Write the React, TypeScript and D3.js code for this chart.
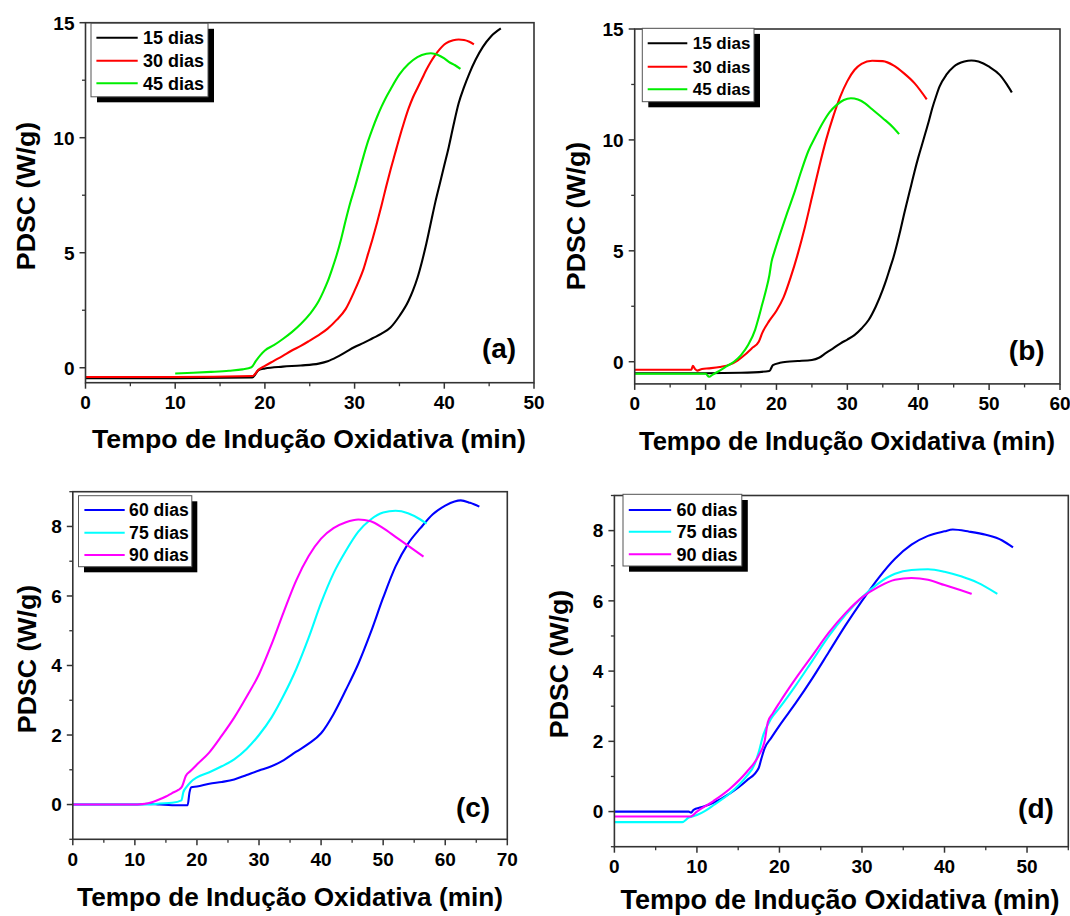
import React from "react";
import * as d3 from "d3";

const FONT = "'Liberation Sans', Arial, Helvetica, sans-serif";

// ---------- DATA ----------
const legendA = ["15 dias", "30 dias", "45 dias"];
const colorsA = ["#000000", "#ff0000", "#00ee00"];
const legendC = ["60 dias", "75 dias", "90 dias"];
const colorsC = ["#0000ff", "#00ffff", "#ff00ff"];

const a15: [number, number][] = [[0,-0.45],[10,-0.45],[18.6,-0.42],[19.3,-0.1],[20,-0.03],[22,0.05],[24,0.1],[26,0.18],[27,0.28],[28,0.46],[29,0.68],[30,0.9],[31,1.08],[32,1.28],[33,1.48],[34,1.75],[35,2.25],[36,2.9],[36.5,3.35],[37,3.9],[37.5,4.6],[38,5.4],[38.5,6.3],[39,7.2],[39.5,8.0],[40,8.8],[40.5,9.6],[41,10.5],[41.6,11.5],[42.2,12.2],[42.8,12.8],[43.5,13.4],[44.3,13.95],[45.2,14.4],[46.3,14.75]];
const a30: [number, number][] = [[0,-0.4],[10,-0.4],[18.6,-0.36],[19.3,-0.08],[20,0.08],[21,0.3],[22,0.52],[23,0.75],[24,0.95],[25,1.18],[26,1.42],[27,1.7],[28,2.08],[29,2.55],[30,3.35],[30.5,3.8],[31,4.3],[31.5,4.95],[32,5.6],[32.5,6.3],[33,7.05],[33.5,7.85],[34,8.6],[34.5,9.3],[35,10.0],[35.5,10.65],[36,11.25],[36.5,11.75],[37,12.15],[37.5,12.55],[38,12.95],[38.5,13.3],[39,13.6],[39.5,13.85],[40,14.05],[40.5,14.17],[41,14.24],[41.6,14.27],[42.2,14.25],[42.8,14.17],[43.3,14.06]];
const a45: [number, number][] = [[10,-0.25],[12,-0.22],[14,-0.18],[16,-0.13],[17.5,-0.07],[18.5,0.02],[19,0.3],[19.5,0.55],[20,0.75],[21,0.98],[22,1.25],[23,1.55],[24,1.9],[25,2.33],[26,2.9],[26.5,3.3],[27,3.75],[27.5,4.3],[28,4.9],[28.5,5.6],[29,6.4],[29.5,7.15],[30,7.8],[30.5,8.5],[31,9.2],[31.5,9.85],[32,10.4],[32.5,10.9],[33,11.35],[33.5,11.75],[34,12.1],[35,12.75],[36,13.2],[37,13.5],[38,13.65],[38.5,13.67],[39.3,13.6],[40,13.45],[40.5,13.3],[41.2,13.15],[41.8,12.99]];

const b15: [number, number][] = [[0,-0.52],[10,-0.52],[15,-0.5],[19,-0.42],[19.5,-0.15],[20.5,-0.05],[21.5,0.0],[23,0.03],[25,0.08],[26,0.18],[27,0.4],[28,0.6],[29,0.82],[30,1.0],[31,1.2],[32,1.5],[33,1.88],[34,2.48],[35,3.25],[35.5,3.7],[36,4.2],[36.5,4.7],[37,5.3],[37.5,5.95],[38,6.65],[38.5,7.3],[39,7.95],[39.5,8.6],[40,9.2],[40.5,9.75],[41,10.3],[41.5,10.85],[42,11.45],[42.5,11.95],[43,12.4],[44,12.95],[45,13.3],[46.5,13.53],[47.5,13.58],[48.5,13.53],[50,13.3],[51.5,12.93],[52.5,12.5],[53.2,12.14]];
const b30: [number, number][] = [[0,-0.36],[8,-0.36],[8.2,-0.18],[8.5,-0.32],[8.8,-0.4],[9.5,-0.33],[10.5,-0.3],[12,-0.24],[13.5,-0.12],[14.5,0.05],[15.5,0.3],[16.5,0.6],[17.5,0.9],[18,1.3],[19,1.85],[20,2.3],[21,2.9],[22,3.8],[23,4.85],[24,6.05],[25,7.4],[26,8.75],[27,10.0],[28,11.05],[29,11.95],[30,12.65],[31,13.15],[32,13.43],[33.5,13.57],[35,13.55],[36.5,13.36],[38,13.0],[39.5,12.55],[41.2,11.83]];
const b45: [number, number][] = [[0,-0.54],[10,-0.54],[10.5,-0.68],[11,-0.58],[12,-0.4],[13,-0.2],[14,0.0],[15,0.3],[16,0.75],[17,1.45],[17.5,2.0],[18,2.6],[18.5,3.2],[19,3.9],[19.3,4.5],[19.7,4.95],[20.5,5.75],[21.5,6.7],[22.5,7.6],[23.5,8.6],[24.5,9.5],[25.5,10.15],[26.5,10.75],[27.5,11.25],[28.5,11.58],[29.5,11.8],[30.5,11.88],[31.5,11.82],[32.5,11.65],[33.5,11.38],[35,10.98],[36.5,10.55],[37.3,10.26]];

const c60: [number, number][] = [[0,0],[10,0],[12,0.02],[14,0.0],[16,-0.02],[18.5,-0.02],[18.8,0.35],[19.1,0.5],[20,0.52],[22,0.6],[24,0.65],[26,0.72],[28,0.85],[30,0.98],[32,1.1],[34,1.28],[36,1.52],[38,1.75],[40,2.05],[42,2.6],[44,3.3],[46,4.05],[48,4.95],[50,5.95],[52,6.85],[54,7.5],[56,7.95],[58,8.35],[60,8.6],[61.5,8.72],[62.5,8.75],[64,8.68],[65.5,8.57]];
const c75: [number, number][] = [[0,0],[10,0],[12,0.0],[14,0.03],[16,0.05],[17.5,0.12],[17.8,0.35],[18.3,0.5],[19,0.65],[20,0.78],[22,0.93],[24,1.1],[26,1.3],[28,1.6],[30,2.0],[32,2.5],[34,3.15],[36,3.9],[38,4.8],[40,5.8],[42,6.65],[44,7.3],[46,7.85],[48,8.2],[50,8.4],[52,8.45],[54,8.38],[56,8.2],[57,8.08]];
const c90: [number, number][] = [[0,0],[10,0],[11,0.01],[12,0.03],[13,0.08],[14,0.15],[15,0.23],[16,0.33],[17,0.42],[17.6,0.52],[18.2,0.82],[19,0.97],[20,1.15],[22,1.5],[24,1.98],[26,2.5],[28,3.1],[30,3.75],[32,4.6],[34,5.55],[36,6.45],[38,7.15],[40,7.65],[42,7.95],[44,8.12],[46,8.2],[48,8.15],[50,7.95],[52,7.7],[54,7.45],[56.5,7.13]];

const d60: [number, number][] = [[0,0],[9,0],[9.3,-0.03],[9.6,0.05],[10.5,0.12],[12,0.25],[14,0.52],[16,0.88],[17.5,1.25],[17.8,1.5],[18.2,1.8],[19,2.1],[20,2.45],[22,3.1],[24,3.8],[26,4.55],[28,5.3],[30,6.0],[32,6.65],[34,7.2],[36,7.6],[38,7.85],[40,7.98],[41,8.03],[43,7.97],[45,7.88],[47,7.72],[48.3,7.52]];
const d75: [number, number][] = [[0,-0.3],[8.2,-0.3],[9,-0.17],[10,-0.1],[11,0.02],[12,0.18],[14,0.52],[16,1.0],[17,1.35],[17.5,1.7],[18,2.15],[19,2.65],[20,2.95],[22,3.6],[24,4.3],[26,5.0],[28,5.6],[30,6.1],[32,6.5],[34,6.77],[36,6.88],[38,6.9],[40,6.83],[42,6.7],[44,6.52],[46.4,6.2]];
const d90: [number, number][] = [[0,-0.14],[9.2,-0.14],[10,0.0],[12,0.3],[14,0.65],[16,1.12],[17.5,1.6],[18.2,2.0],[18.6,2.55],[19.2,2.8],[20,3.1],[22,3.8],[24,4.45],[26,5.1],[28,5.65],[30,6.1],[32,6.4],[34,6.6],[36,6.65],[38,6.6],[40,6.45],[42,6.3],[43.3,6.2]];

const xTicksA = [0, 10, 20, 30, 40, 50];
const xTicksB = [0, 10, 20, 30, 40, 50, 60];
const xTicksC = [0, 10, 20, 30, 40, 50, 60, 70];
const xTicksD = [0, 10, 20, 30, 40, 50];
const yTicksAB = [0, 5, 10, 15];
const yTicksCD = [0, 2, 4, 6, 8];

const X_TITLE = "Tempo de Indução Oxidativa (min)";
const Y_TITLE = "PDSC (W/g)";

// ---------- LAYOUT ----------
type Legend = { x: number; y: number; w: number; h: number; sx: number; sy: number; rows: number[]; lx1: number; lx2: number; tx: number; fs: number };
type PanelCfg = {
  id: string;
  left: number; right: number; top: number; bottom: number;
  xDomain: [number, number]; yDomain: [number, number];
  xTicks: number[]; xStep: number; yTicks: number[]; yStep: number;
  series: [number, number][][]; names: string[]; colors: string[];
  legend: Legend;
  label: { text: string; x: number; y: number };
  yTitle: { x: number; y: number; fs: number };
  xTitle: { x: number; y: number; fs: number; anchor: string };
};

const panels: PanelCfg[] = [
  {
    id: "a",
    left: 85.5, right: 534, top: 22.7, bottom: 382.7,
    xDomain: [0, 50], yDomain: [-0.65, 15],
    xTicks: xTicksA, xStep: 5, yTicks: yTicksAB, yStep: 2.5,
    series: [a15, a30, a45], names: legendA, colors: colorsA,
    legend: { x: 91, y: 23.3, w: 117, h: 73.5, sx: 6, sy: 5.5, rows: [37.7, 60.7, 83.3], lx1: 96.4, lx2: 137.7, tx: 142.9, fs: 18 },
    label: { text: "(a)", x: 499, y: 358 },
    yTitle: { x: 34.5, y: 196, fs: 26.7 },
    xTitle: { x: 309, y: 448, fs: 26.7, anchor: "middle" },
  },
  {
    id: "b",
    left: 634.7, right: 1060, top: 29, bottom: 383.9,
    xDomain: [0, 60], yDomain: [-1, 15],
    xTicks: xTicksB, xStep: 5, yTicks: yTicksAB, yStep: 2.5,
    series: [b15, b30, b45], names: legendA, colors: colorsA,
    legend: { x: 642.3, y: 28.3, w: 111.7, h: 73.4, sx: 6, sy: 5.6, rows: [43.3, 66.7, 89.2], lx1: 647.7, lx2: 687.3, tx: 692.7, fs: 17 },
    label: { text: "(b)", x: 1026.7, y: 360 },
    yTitle: { x: 585, y: 216, fs: 26.7 },
    xTitle: { x: 847, y: 450, fs: 25.6, anchor: "middle" },
  },
  {
    id: "c",
    left: 72.8, right: 507.3, top: 491.7, bottom: 839.3,
    xDomain: [0, 70], yDomain: [-1, 9],
    xTicks: xTicksC, xStep: 5, yTicks: yTicksCD, yStep: 1,
    series: [c60, c75, c90], names: legendC, colors: colorsC,
    legend: { x: 78.5, y: 495.7, w: 113.3, h: 71, sx: 5.5, sy: 5.6, rows: [510, 532.7, 555], lx1: 84.4, lx2: 124.7, tx: 129.1, fs: 17.6 },
    label: { text: "(c)", x: 473, y: 816.7 },
    yTitle: { x: 36, y: 659, fs: 26.7 },
    xTitle: { x: 290, y: 906, fs: 26.2, anchor: "middle" },
  },
  {
    id: "d",
    left: 614.4, right: 1068.3, top: 495.5, bottom: 846.7,
    xDomain: [0, 55], yDomain: [-1, 9],
    xTicks: xTicksD, xStep: 5, yTicks: yTicksCD, yStep: 1,
    series: [d60, d75, d90], names: legendC, colors: colorsC,
    legend: { x: 623, y: 494.3, w: 118.8, h: 71.7, sx: 6, sy: 5.7, rows: [510, 531.7, 554.3], lx1: 628.8, lx2: 671.2, tx: 676.4, fs: 18 },
    label: { text: "(d)", x: 1036, y: 818 },
    yTitle: { x: 568, y: 664, fs: 26.7 },
    xTitle: { x: 620.5, y: 909, fs: 27, anchor: "start" },
  },
];

const AXIS = "#333333";

function Panel({ p }: { p: PanelCfg }) {
  const x = d3.scaleLinear().domain(p.xDomain).range([p.left, p.right]);
  const y = d3.scaleLinear().domain(p.yDomain).range([p.bottom, p.top]);
  const line = d3.line<[number, number]>().x((d) => x(d[0])).y((d) => y(d[1])).curve(d3.curveMonotoneX);

  const xMinor = d3.range(Math.ceil(p.xDomain[0] / p.xStep) * p.xStep, p.xDomain[1] + 1e-9, p.xStep).filter((v) => !p.xTicks.some((t) => Math.abs(t - v) < 1e-9));
  const yMinor = d3.range(Math.ceil(p.yDomain[0] / p.yStep) * p.yStep, p.yDomain[1] + 1e-9, p.yStep).filter((v) => !p.yTicks.some((t) => Math.abs(t - v) < 1e-9));

  const tickFs = 19;
  const L = p.legend;
  return (
    <g>
      <defs>
        <clipPath id={`clip-${p.id}`}>
          <rect x={p.left} y={p.top} width={p.right - p.left} height={p.bottom - p.top} />
        </clipPath>
      </defs>
      <g clipPath={`url(#clip-${p.id})`}>
        {p.series.map((s, i) => (
          <path key={i} d={line(s) || ""} fill="none" stroke={p.colors[i]} strokeWidth={2.1} strokeLinejoin="round" />
        ))}
      </g>
      <rect x={p.left} y={p.top} width={p.right - p.left} height={p.bottom - p.top} fill="none" stroke={AXIS} strokeWidth={1.6} />
      {p.xTicks.map((t) => (
        <g key={`xt${t}`}>
          <line x1={x(t)} x2={x(t)} y1={p.bottom} y2={p.bottom + 6} stroke={AXIS} strokeWidth={1.5} />
          <text x={x(t)} y={p.bottom + 26.5} textAnchor="middle" fontFamily={FONT} fontWeight="bold" fontSize={tickFs} fill="#000">{t}</text>
        </g>
      ))}
      {xMinor.map((t) => (
        <line key={`xm${t}`} x1={x(t)} x2={x(t)} y1={p.bottom} y2={p.bottom + 3.5} stroke={AXIS} strokeWidth={1.3} />
      ))}
      {p.yTicks.map((t) => (
        <g key={`yt${t}`}>
          <line x1={p.left - 6} x2={p.left} y1={y(t)} y2={y(t)} stroke={AXIS} strokeWidth={1.5} />
          <text x={p.left - 11} y={y(t)} dy="0.36em" textAnchor="end" fontFamily={FONT} fontWeight="bold" fontSize={tickFs} fill="#000">{t}</text>
        </g>
      ))}
      {yMinor.map((t) => (
        <line key={`ym${t}`} x1={p.left - 3.5} x2={p.left} y1={y(t)} y2={y(t)} stroke={AXIS} strokeWidth={1.3} />
      ))}
      <rect x={L.x + L.sx} y={L.y + L.sy} width={L.w} height={L.h} fill="#000" />
      <rect x={L.x} y={L.y} width={L.w} height={L.h} fill="#fff" stroke="#555" strokeWidth={1} />
      {p.names.map((n, i) => (
        <g key={n}>
          <line x1={L.lx1} x2={L.lx2} y1={L.rows[i]} y2={L.rows[i]} stroke={p.colors[i]} strokeWidth={2} />
          <text x={L.tx} y={L.rows[i]} dy="0.36em" fontFamily={FONT} fontWeight="bold" fontSize={L.fs} fill="#000">{n}</text>
        </g>
      ))}
      <text x={p.label.x} y={p.label.y} textAnchor="middle" fontFamily={FONT} fontWeight="bold" fontSize={28} fill="#000">{p.label.text}</text>
      <text transform={`translate(${p.yTitle.x},${p.yTitle.y}) rotate(-90)`} textAnchor="middle" fontFamily={FONT} fontWeight="bold" fontSize={p.yTitle.fs} fill="#000">{Y_TITLE}</text>
      <text x={p.xTitle.x} y={p.xTitle.y} textAnchor={p.xTitle.anchor} fontFamily={FONT} fontWeight="bold" fontSize={p.xTitle.fs} fill="#000">{X_TITLE}</text>
    </g>
  );
}

export default function App() {
  return (
    <svg width={1070} height={916} style={{ position: "absolute", left: 0, top: 0, background: "#fff" }}>
      <rect x={0} y={0} width={1070} height={916} fill="#fff" />
      {panels.map((p) => (
        <Panel key={p.id} p={p} />
      ))}
    </svg>
  );
}
